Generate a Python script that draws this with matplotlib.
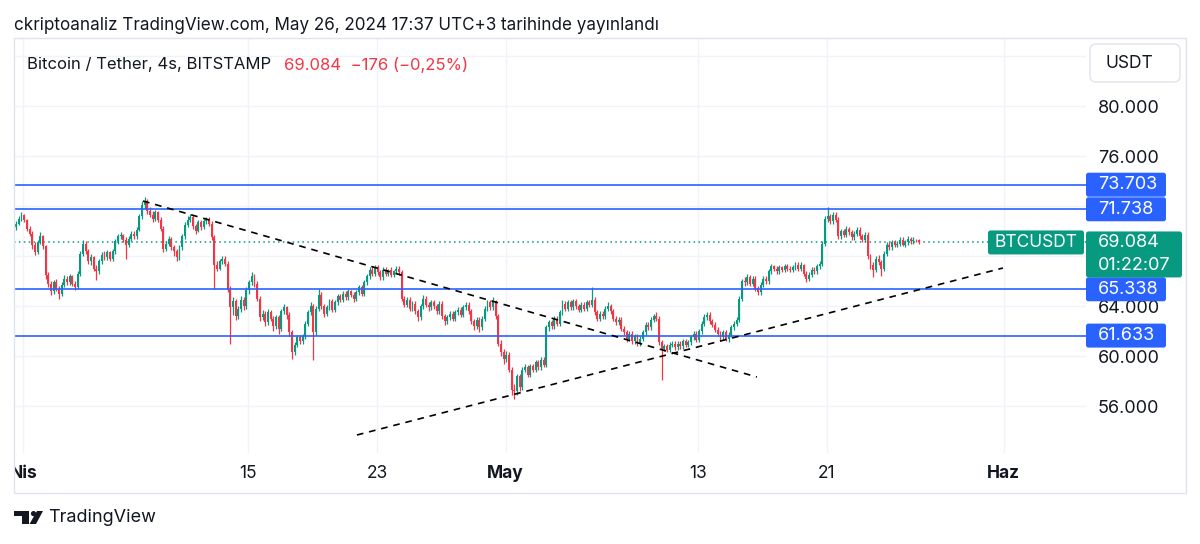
import numpy as np
import pandas as pd
import matplotlib
matplotlib.use("Agg")
import matplotlib.pyplot as plt
import matplotlib.dates as mdates
from matplotlib.patches import FancyBboxPatch, Rectangle, Ellipse, Polygon
from matplotlib.transforms import IdentityTransform, Bbox, TransformedBbox

plt.rcParams['font.family'] = ['Inter', 'DejaVu Sans']

# BTCUSDT 4h candles (BITSTAMP), times in UTC+3 (thousand USDT)
first_candle = "2024-03-31 11:00"
first_open = 70.3
close_k = [
    70.6, 71.0, 71.3, 70.9, 70.2, 69.8,  68.9, 68.3, 69.1, 69.6, 68.8, 66.5,
    65.8, 65.2, 65.9, 65.4, 65.0, 65.7,  66.2, 65.9, 66.4, 65.8, 65.5, 66.6,
    68.2, 69.0, 68.4, 67.6, 67.9, 67.0,  66.8, 67.6, 68.1, 67.9, 68.3, 67.8,
    68.4, 69.2, 69.6, 69.7, 69.3, 68.9,  69.4, 69.8, 69.6, 70.1, 71.2, 72.1,
    72.4, 71.6, 71.3, 71.0, 71.5, 70.9,  70.2, 68.6, 69.0, 69.4, 68.7, 68.4,
    67.9, 68.7, 69.6, 70.5, 70.9, 71.1,  70.4, 70.0, 70.7, 70.3, 70.8, 70.9,
    70.6, 69.5, 67.3, 67.0, 67.6, 67.8,  67.4, 65.3, 63.9, 64.4, 63.2, 63.8,
    64.5, 64.0, 65.3, 65.9, 66.4, 65.8,  64.6, 63.1, 63.4, 62.7, 63.5, 63.0,
    62.4, 63.1, 62.2, 63.6, 63.9, 63.3,  61.9, 60.3, 60.9, 61.5, 61.2, 61.6,
    62.6, 63.5, 64.0, 61.9, 63.8, 64.9,  64.0, 63.4, 63.9, 64.4, 63.7, 64.3,
    64.8, 64.5, 65.0, 64.7, 65.2, 64.9,  64.6, 65.1, 65.5, 65.0, 65.9, 66.4,
    66.9, 66.6, 67.1, 66.7, 66.3, 66.9,  66.6, 66.9, 66.5, 66.8, 67.0, 66.7,
    64.6, 64.1, 64.5, 63.8, 64.2, 63.6,  63.1, 64.0, 64.6, 64.1, 63.9, 64.3,
    64.0, 63.6, 64.2, 63.2, 62.8, 63.1,  63.4, 63.0, 63.5, 63.7, 63.3, 63.9,
    64.1, 63.6, 62.8, 62.4, 62.9, 62.3,  63.0, 63.8, 64.3, 63.9, 64.4, 63.2,
    61.0, 60.3, 59.8, 60.1, 58.9, 57.3,  57.2, 58.4, 57.5, 58.9, 59.1, 58.5,
    59.2, 58.9, 59.5, 59.1, 59.7, 59.3,  62.3, 62.7, 62.4, 63.0, 62.6, 63.5,
    64.2, 63.8, 64.3, 63.9, 64.4, 64.0,  63.7, 64.1, 63.8, 64.3, 64.1, 64.5,
    63.5, 63.0, 63.4, 63.2, 63.8, 64.0,  63.6, 63.0, 62.7, 62.9, 62.2, 61.9,
    61.4, 61.8, 61.2, 61.6, 61.0, 61.4,  61.9, 62.5, 62.3, 62.9, 63.2, 63.0,
    61.1, 60.6, 60.8, 60.5, 60.9, 61.0,  60.7, 61.0, 60.8, 61.2, 60.9, 61.1,
    61.5, 61.8, 61.3, 62.0, 62.6, 63.1,  63.3, 62.8, 62.5, 62.1, 61.8, 61.5,
    61.9, 61.4, 61.7, 62.3, 62.6, 62.9,  64.6, 66.0, 65.9, 66.3, 65.8, 66.2,
    65.4, 65.1, 65.7, 66.2, 66.0, 66.8,  67.2, 67.0, 66.8, 67.1, 66.9, 67.2,
    67.0, 66.9, 67.1, 67.3, 67.0, 67.3,  66.6, 66.2, 66.5, 66.9, 66.8, 67.2,
    67.4, 69.0, 71.0, 71.2, 70.8, 71.3,  70.9, 69.6, 70.0, 69.7, 70.2, 69.9,
    69.5, 69.8, 70.1, 69.6, 69.3, 69.7,  68.0, 67.3, 66.9, 67.8, 67.5, 67.0,
    68.2, 68.9, 68.7, 69.1, 68.9, 69.0,  69.3, 68.9, 69.1, 69.4, 69.2, 69.3,
    69.26, 69.084,
]
high_k = [
    70.8, 71.2, 71.5, 71.4, 71.0, 70.4,  70.0, 69.1, 69.3, 69.9, 69.7, 68.9,
    66.7, 66.0, 66.1, 66.2, 65.6, 65.9,  66.5, 66.4, 66.6, 66.5, 66.0, 66.8,
    68.4, 69.3, 69.2, 68.6, 68.2, 68.0,  67.3, 67.8, 68.3, 68.4, 68.5, 68.4,
    68.6, 69.4, 69.8, 69.9, 69.8, 69.5,  69.6, 70.0, 70.0, 70.3, 71.4, 72.4,
    72.7, 72.6, 71.9, 71.6, 71.7, 71.6,  71.1, 70.4, 69.2, 69.6, 69.5, 68.9,
    68.6, 68.9, 69.8, 70.7, 71.2, 71.4,  71.3, 70.6, 70.9, 70.9, 71.0, 71.1,
    71.1, 70.8, 69.7, 67.6, 67.8, 68.0,  68.0, 67.6, 65.6, 64.7, 64.6, 64.0,
    64.8, 64.7, 65.5, 66.1, 66.7, 66.6,  66.0, 64.8, 63.7, 63.6, 63.8, 63.7,
    63.2, 63.3, 63.3, 63.8, 64.2, 64.0,  63.5, 62.1, 61.1, 61.7, 61.7, 61.8,
    62.8, 63.7, 64.3, 64.2, 64.0, 65.4,  65.1, 64.2, 64.1, 64.6, 64.6, 64.5,
    65.0, 65.0, 65.2, 65.2, 65.4, 65.3,  65.1, 65.3, 65.7, 65.7, 66.1, 66.6,
    67.1, 67.2, 67.3, 67.3, 66.9, 67.1,  67.1, 67.0, 67.1, 66.9, 67.2, 67.2,
    66.9, 64.8, 64.7, 64.7, 64.4, 64.4,  63.8, 64.2, 64.9, 64.8, 64.3, 64.5,
    64.5, 64.2, 64.4, 64.4, 63.4, 63.3,  63.6, 63.6, 63.7, 63.9, 63.9, 64.1,
    64.3, 64.3, 63.8, 63.0, 63.1, 63.1,  63.2, 64.0, 64.5, 64.5, 64.7, 64.5,
    63.4, 61.3, 60.6, 60.4, 60.3, 59.1,  57.8, 58.6, 58.6, 59.1, 59.4, 59.3,
    59.4, 59.4, 59.7, 59.7, 59.9, 59.9,  62.5, 62.9, 62.9, 63.2, 63.2, 63.7,
    64.5, 64.4, 64.5, 64.5, 64.6, 64.6,  64.2, 64.3, 64.3, 64.5, 64.5, 65.5,
    64.7, 63.7, 63.6, 63.6, 64.0, 64.3,  64.2, 63.8, 63.2, 63.1, 63.1, 62.4,
    62.1, 62.0, 62.0, 61.8, 61.8, 61.6,  62.1, 62.7, 62.7, 63.1, 63.4, 63.5,
    63.2, 61.3, 61.0, 61.0, 61.1, 61.2,  61.2, 61.2, 61.2, 61.4, 61.4, 61.3,
    61.7, 62.0, 62.0, 62.2, 62.8, 63.4,  63.5, 63.5, 63.0, 62.7, 62.3, 62.0,
    62.1, 62.1, 61.9, 62.5, 62.8, 63.1,  64.8, 66.2, 66.3, 66.6, 66.5, 66.4,
    66.4, 65.6, 65.9, 66.4, 66.4, 67.0,  67.4, 67.3, 67.2, 67.3, 67.2, 67.4,
    67.4, 67.2, 67.3, 67.5, 67.5, 67.5,  67.4, 66.8, 66.7, 67.1, 67.1, 67.4,
    67.6, 69.2, 71.2, 71.9, 71.4, 71.5,  71.5, 71.1, 70.2, 70.2, 70.4, 70.3,
    70.1, 70.0, 70.3, 70.3, 69.8, 69.9,  69.9, 68.2, 67.5, 68.0, 68.1, 67.7,
    68.4, 69.1, 69.1, 69.3, 69.3, 69.2,  69.5, 69.5, 69.3, 69.6, 69.5, 69.5,
    69.4, 69.35,
]
low_k = [
    70.1, 70.5, 70.8, 70.7, 70.0, 69.6,  68.6, 68.1, 68.2, 69.0, 68.6, 66.2,
    65.5, 64.9, 65.0, 65.2, 64.6, 64.8,  65.5, 65.7, 65.7, 65.6, 65.3, 65.4,
    66.4, 68.0, 68.2, 67.4, 67.3, 66.8,  66.1, 66.6, 67.4, 67.7, 67.7, 67.6,
    67.6, 68.2, 69.0, 69.4, 69.1, 67.8,  68.7, 69.2, 69.4, 69.4, 70.0, 71.0,
    71.8, 71.4, 71.1, 70.7, 70.8, 70.7,  70.0, 68.3, 68.4, 68.8, 68.5, 68.0,
    67.6, 67.7, 68.5, 69.4, 70.3, 70.7,  70.2, 69.8, 69.9, 70.1, 70.2, 70.6,
    70.4, 69.3, 65.4, 66.8, 66.9, 67.4,  67.2, 65.1, 61.0, 63.3, 62.9, 63.0,
    63.5, 63.7, 63.8, 65.0, 65.7, 65.5,  64.4, 62.8, 62.9, 62.4, 62.5, 62.8,
    62.0, 62.2, 61.8, 62.0, 63.4, 63.0,  61.6, 59.8, 60.1, 60.7, 61.0, 61.0,
    61.4, 62.4, 63.3, 59.7, 61.7, 63.6,  63.8, 63.1, 63.2, 63.7, 63.5, 63.5,
    64.1, 64.3, 64.3, 64.5, 64.5, 64.7,  64.3, 64.4, 64.9, 64.8, 64.8, 65.7,
    66.2, 66.4, 66.4, 66.5, 66.1, 66.1,  66.4, 66.4, 66.3, 66.3, 66.6, 66.5,
    64.4, 63.9, 63.9, 63.6, 63.6, 63.4,  62.8, 62.9, 63.8, 63.9, 63.6, 63.7,
    63.8, 63.4, 63.4, 63.0, 62.5, 62.6,  62.9, 62.8, 62.8, 63.3, 63.1, 63.1,
    63.7, 63.4, 62.6, 62.1, 62.2, 61.9,  62.1, 62.8, 63.6, 63.7, 63.7, 63.0,
    60.8, 60.0, 59.4, 59.5, 58.7, 56.9,  56.6, 56.9, 57.2, 57.3, 58.7, 58.3,
    58.3, 58.7, 58.7, 58.9, 58.9, 59.1,  59.1, 62.0, 62.2, 62.2, 62.4, 62.4,
    63.3, 63.6, 63.6, 63.7, 63.7, 63.8,  63.5, 63.5, 63.6, 63.6, 63.9, 63.9,
    63.3, 62.8, 62.8, 63.0, 63.0, 63.6,  63.4, 62.8, 62.5, 62.5, 62.0, 61.7,
    61.1, 61.2, 61.0, 61.0, 60.8, 60.8,  61.2, 61.7, 62.1, 62.1, 62.7, 62.8,
    60.9, 58.1, 60.4, 60.3, 60.3, 60.7,  60.5, 60.5, 60.6, 60.6, 60.7, 60.7,
    60.9, 61.3, 61.1, 61.1, 61.8, 62.4,  62.9, 62.6, 62.3, 61.9, 61.6, 61.2,
    61.3, 61.2, 61.1, 61.5, 62.1, 62.4,  62.7, 64.4, 65.6, 65.7, 65.6, 65.6,
    65.2, 64.9, 64.9, 65.5, 65.8, 65.8,  66.6, 66.8, 66.6, 66.6, 66.7, 66.7,
    66.8, 66.7, 66.7, 66.9, 66.8, 66.8,  66.4, 65.9, 66.0, 66.3, 66.6, 66.6,
    67.0, 67.2, 68.8, 70.7, 70.6, 70.6,  70.7, 69.4, 69.4, 69.5, 69.5, 69.7,
    69.3, 69.3, 69.6, 69.4, 69.1, 69.1,  67.8, 67.0, 66.3, 66.7, 67.3, 66.4,
    66.8, 68.0, 68.5, 68.5, 68.7, 68.7,  68.8, 68.8, 68.7, 68.9, 69.0, 69.0,
    69.1, 69.0,
]

# drawings on the chart
levels = [73703, 71738, 65338, 61633]
last_price = 69084
trend_down = [("2024-04-08 10:35", 72400), ("2024-05-16 15:20", 58320)]
trend_up = [("2024-04-21 18:00", 53680), ("2024-05-31 22:50", 67040)]

tick_dates = ["2024-04-01", "2024-04-15", "2024-04-23", "2024-05-01",
              "2024-05-13", "2024-05-21", "2024-06-01"]
tick_labels = ["Nis", "15", "23", "May", "13", "21", "Haz"]
month_labels = ["Nis", "May", "Haz"]
# price scale labels hidden behind the labels on the right
covered_ticks = [84000, 72000, 68000]

GREEN = "#089981"
RED = "#f23645"
BLUE = "#2962ff"
TXT = "#131722"
GRID = "#f0f3fa"

W, H = 1200, 544
fig = plt.figure(figsize=(W / 100, H / 100), dpi=100)
# chart pane in pixels: x 14..1086, y 38..453
ax = fig.add_axes([14 / W, 1 - 453 / H, 1072 / W, 415 / H])
for s in ax.spines.values():
    s.set_visible(False)

assert len(close_k) == len(high_k) == len(low_k)
times = pd.date_range(first_candle, periods=len(close_k), freq="4h") + pd.Timedelta(hours=2)
x = mdates.date2num(times)
close = np.array(close_k) * 1000
high = np.array(high_k) * 1000
low = np.array(low_k) * 1000
open_ = np.r_[first_open, close_k[:-1]] * 1000

up = close >= open_
cols = np.where(up, GREEN, RED)
ax.vlines(x, low, high, colors=cols, lw=0.9, zorder=2)
body = np.maximum(np.abs(close - open_), 60)
ax.bar(x, body, width=0.12, bottom=np.minimum(open_, close), color=cols, lw=0, zorder=2.1)

# levels and price line
for lv in levels:
    ax.axhline(lv, color=BLUE, lw=1.2, zorder=3)
ax.axhline(last_price, color=GREEN, lw=1.1, ls=(0, (1, 2.2)), zorder=1.5)

for tl in (trend_down, trend_up):
    tx = mdates.date2num(pd.to_datetime([p[0] for p in tl]))
    ty = [p[1] for p in tl]
    ax.plot(tx, ty, color="black", lw=1.2, ls=(0, (4, 3.5)), zorder=4)

# ticks first, then the view range (set_ticks would widen it)
ax.set_xticks(mdates.date2num(pd.to_datetime(tick_dates)))
ax.set_xticklabels(tick_labels)
for lab in ax.get_xticklabels():
    lab.set_fontweight("bold" if lab.get_text() in month_labels else "normal")
    lab.set_clip_box(TransformedBbox(Bbox([[14, 0], [1186, H]]), IdentityTransform()))
    lab.set_clip_on(True)
ax.tick_params(axis="x", length=0, pad=9, labelsize=12.5, labelcolor=TXT)

yt = np.arange(56000, 84001, 4000)
ax.yaxis.tick_right()
ax.set_yticks(yt)
ax.set_yticklabels(["" if v in covered_ticks else f"{v:,.0f}".replace(",", ".") for v in yt])
ax.tick_params(axis="y", length=0, pad=8.6, labelsize=13, labelcolor=TXT)
ax.grid(True, color=GRID, lw=1, zorder=0)
ax.set_axisbelow(True)

d0 = mdates.date2num(pd.Timestamp("2024-04-01"))
ax.set_xlim(d0 - 0.59, d0 + 66.12)
ax.set_ylim(52240, 85440)

# frame
fig.add_artist(Rectangle((14, H - 493), 1172, 455, transform=IdentityTransform(),
                         fill=False, ec="#e0e3eb", lw=1, zorder=1))


def py(price):
    return ax.transData.transform((0, price))[1]


def box(x0, x1, y0, y1, fc, ec="none", r=2.5):
    fig.add_artist(FancyBboxPatch((x0, y0), x1 - x0, y1 - y0,
                                  boxstyle=f"round,pad=0,rounding_size={r}",
                                  transform=IdentityTransform(), fc=fc, ec=ec, lw=1, zorder=5))


def label(xp, yp, s, color="white", size=13, ha="left", **kw):
    fig.text(xp, yp, s, transform=IdentityTransform(), ha=ha, va="center",
             color=color, fontsize=size, zorder=6, **kw)


for lv in levels:
    yc = py(lv)
    box(1086, 1166, yc - 12, yc + 12, BLUE)
    label(1098, yc, f"{lv:,.0f}".replace(",", "."))

yc = py(last_price)
box(1086, 1182, yc - 35, yc + 11, GREEN)
label(1098, yc, f"{last_price:,.0f}".replace(",", "."))
label(1098, yc - 23, "01:22:07")
box(988, 1084, yc - 12, yc + 12, GREEN)
label(1036, yc, "BTCUSDT", size=12.5, ha="center")

# currency button
box(1090, 1180, H - 82, H - 44, "white", ec="#e0e3eb", r=6)
label(1129, H - 63, "USDT", color=TXT, size=12.5, ha="center")

# header texts
label(14, H - 25, "ckriptoanaliz TradingView.com, May 26, 2024 17:37 UTC+3 tarihinde yayınlandı",
      color=TXT, size=12.3)
label(27, H - 65, "Bitcoin / Tether, 4s, BITSTAMP", color=TXT, size=12)
label(284, H - 65, "69.084  \u2212176 (\u22120,25%)", color=RED, size=12)

# TradingView logo
lx, ly = 14, H - 511
fig.add_artist(Polygon([(lx, ly), (lx + 15, ly), (lx + 15, ly - 13), (lx + 8, ly - 13),
                        (lx + 8, ly - 5), (lx, ly - 5)], closed=True,
                       transform=IdentityTransform(), fc=TXT, ec="none"))
fig.add_artist(Ellipse((lx + 19.5, ly - 2.6), 5.2, 5.2, transform=IdentityTransform(), fc=TXT))
fig.add_artist(Polygon([(lx + 23, ly), (lx + 29, ly), (lx + 22, ly - 13), (lx + 15.5, ly - 13)],
                       closed=True, transform=IdentityTransform(), fc=TXT, ec="none"))
label(48, H - 518, "TradingView", color=TXT, size=13)

fig.savefig("out.png", dpi=100)
